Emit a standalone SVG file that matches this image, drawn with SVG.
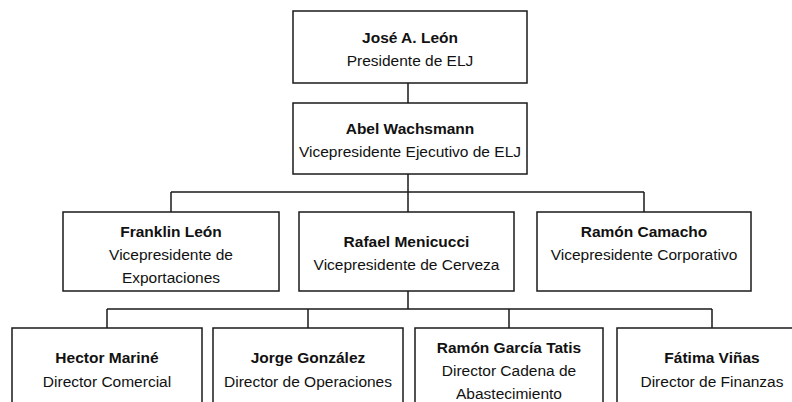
<svg xmlns="http://www.w3.org/2000/svg" width="792" height="402" viewBox="0 0 792 402">
<style>
.box{fill:#fff;stroke:#1a1a1a;stroke-width:1.5}
.ln{fill:none;stroke:#1a1a1a;stroke-width:1.5}
text{font-family:"Liberation Sans",Arial,sans-serif;font-size:15.5px;fill:#111;text-anchor:middle}
.b{font-weight:bold}
</style>
<rect width="792" height="402" fill="#fff"/>
<g id="connectors">
<path class="ln" d="M408 83V103M408 174V192M171 192H644M171 192V212M408 192V212M644 192V212"/>
<path class="ln" d="M408 291V309M107 309H712M107 309V328M308 309V328M509 309V328M712 309V328"/>
</g>
<g id="n-jose">
<rect class="box" x="293" y="11" width="234" height="72"/>
<text class="b" x="410" y="43">José A. León</text>
<text x="410" y="66">Presidente de ELJ</text>
</g>
<g id="n-abel">
<rect class="box" x="293" y="103" width="234" height="71"/>
<text class="b" x="410" y="134">Abel Wachsmann</text>
<text x="410" y="157">Vicepresidente Ejecutivo de ELJ</text>
</g>
<g id="n-franklin">
<rect class="box" x="63" y="212" width="216" height="79"/>
<text class="b" x="171" y="237">Franklin León</text>
<text x="171" y="260">Vicepresidente de</text>
<text x="171" y="283">Exportaciones</text>
</g>
<g id="n-rafael">
<rect class="box" x="299" y="212" width="215" height="79"/>
<text class="b" x="406.5" y="247">Rafael Menicucci</text>
<text x="406.5" y="270">Vicepresidente de Cerveza</text>
</g>
<g id="n-ramonc">
<rect class="box" x="537" y="212" width="214" height="79"/>
<text class="b" x="644" y="237">Ramón Camacho</text>
<text x="644" y="260">Vicepresidente Corporativo</text>
</g>
<g id="n-hector">
<rect class="box" x="12" y="328" width="190" height="80"/>
<text class="b" x="107" y="363">Hector Mariné</text>
<text x="107" y="387">Director Comercial</text>
</g>
<g id="n-jorge">
<rect class="box" x="213" y="328" width="190" height="80"/>
<text class="b" x="308" y="363">Jorge González</text>
<text x="308" y="387">Director de Operaciones</text>
</g>
<g id="n-ramong">
<rect class="box" x="415" y="328" width="188" height="80"/>
<text class="b" x="509" y="353">Ramón García Tatis</text>
<text x="509" y="376">Director Cadena de</text>
<text x="509" y="399">Abastecimiento</text>
</g>
<g id="n-fatima">
<rect class="box" x="617" y="328" width="190" height="80"/>
<text class="b" x="712" y="363">Fátima Viñas</text>
<text x="712" y="387">Director de Finanzas</text>
</g>
</svg>
